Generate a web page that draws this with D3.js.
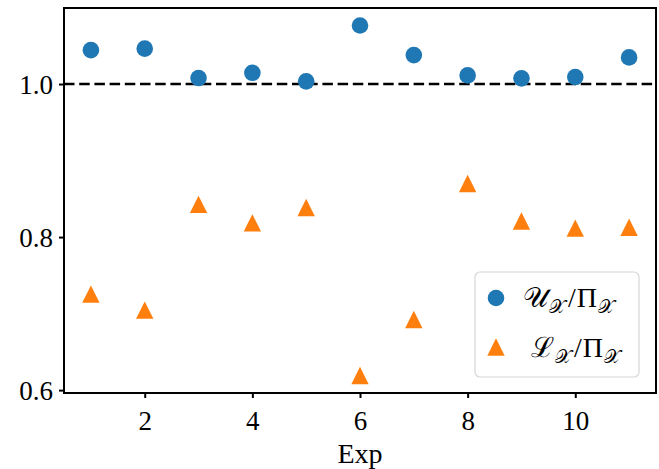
<!DOCTYPE html>
<html>
<head>
<meta charset="utf-8">
<script src="https://cdn.jsdelivr.net/npm/d3@7"></script>
<style>
  html, body { margin: 0; padding: 0; background: #fff; }
  svg { display: block; }
  text { font-family: "Liberation Serif", "DejaVu Serif", serif; fill: #000; }
</style>
</head>
<body>
<svg id="chart" width="659" height="469"></svg>
<script>
// Experiment index
const experiments = [1, 2, 3, 4, 5, 6, 7, 8, 9, 10, 11];
// Upper bound ratio U_X / Pi_X
const upperRatio = [1.0443, 1.0463, 1.0078, 1.0147, 1.0035, 1.0765, 1.0378, 1.0113, 1.0074, 1.0091, 1.0348];
// Lower bound ratio L_X / Pi_X
const lowerRatio = [0.7255, 0.7046, 0.8428, 0.8185, 0.8387, 0.6191, 0.6923, 0.8701, 0.8211, 0.8117, 0.8128];
const xTicks = [2, 4, 6, 8, 10];
const yTicks = [0.6, 0.8, 1.0];
const referenceLevel = 1.0;

const blue = "#1f77b4", orange = "#ff7f0e";
const svg = d3.select("#chart");
const plot = { left: 64, right: 656, top: 8, bottom: 393 };

// 5% padding around the data, as in the usual autoscaling
const all = upperRatio.concat(lowerRatio);
const yMin = d3.min(all), yMax = d3.max(all), pad = (yMax - yMin) * 0.05;
const x = d3.scaleLinear().domain([0.5, 11.5]).range([plot.left, plot.right]);
const y = d3.scaleLinear().domain([yMin - pad, yMax + pad]).range([plot.bottom, plot.top]);

// Axes
const xAxis = d3.axisBottom(x).tickValues(xTicks).tickFormat(d3.format("d")).tickSizeOuter(0).tickSizeInner(5).tickPadding(6);
const yAxis = d3.axisLeft(y).tickValues(yTicks).tickFormat(d3.format(".1f")).tickSizeOuter(0).tickSizeInner(5).tickPadding(6);

const gx = svg.append("g").attr("transform", `translate(0,${plot.bottom})`).call(xAxis);
const gy = svg.append("g").attr("transform", `translate(${plot.left},0)`).call(yAxis);
[gx, gy].forEach(g => {
  g.select(".domain").remove();
  g.selectAll(".tick line").attr("stroke", "#000").attr("stroke-width", 2);
  g.selectAll(".tick text").style("font-size", "27px").attr("fill", "#000");
});
gx.selectAll(".tick text").attr("dy", "0.95em");
gy.selectAll(".tick text").attr("dy", "0.34em");

// Reference line at 1.0
svg.append("line")
  .attr("x1", plot.left).attr("x2", plot.right)
  .attr("y1", y(referenceLevel)).attr("y2", y(referenceLevel))
  .attr("stroke", "#000").attr("stroke-width", 2.6)
  .attr("stroke-dasharray", "10.5,4.7");

// Upper ratio markers
svg.append("g").selectAll("circle").data(experiments).join("circle")
  .attr("cx", (d) => x(d)).attr("cy", (d, i) => y(upperRatio[i]))
  .attr("r", 8.3).attr("fill", blue);

// Lower ratio markers
const tri = (h) => `M0,${-h}L${h},${h}L${-h},${h}Z`;
svg.append("g").selectAll("path").data(experiments).join("path")
  .attr("transform", (d, i) => `translate(${x(d)},${y(lowerRatio[i])})`)
  .attr("d", tri(8.7)).attr("fill", orange);

// Frame
svg.append("rect")
  .attr("x", plot.left).attr("y", plot.top)
  .attr("width", plot.right - plot.left).attr("height", plot.bottom - plot.top)
  .attr("fill", "none").attr("stroke", "#000").attr("stroke-width", 2);

// Axis title
svg.append("text").attr("x", (plot.left + plot.right) / 2).attr("y", 463)
  .attr("text-anchor", "middle").style("font-size", "28px").text("Exp");

// Legend
const lg = svg.append("g");
lg.append("rect").attr("x", 475).attr("y", 272).attr("width", 164).attr("height", 105)
  .attr("rx", 5).attr("fill", "#fff").attr("fill-opacity", 0.8)
  .attr("stroke", "#d6d6d6").attr("stroke-width", 1.2);
lg.append("circle").attr("cx", 496).attr("cy", 298).attr("r", 8.3).attr("fill", blue);
lg.append("path").attr("transform", "translate(496,347)").attr("d", tri(8.7)).attr("fill", orange);

function legendLabel(xPos, yPos, letter) {
  const t = lg.append("text").attr("x", xPos).attr("y", yPos).style("font-size", "28px");
  t.append("tspan").text(letter);
  t.append("tspan").attr("dy", 6).attr("dx", 1).style("font-size", "19px").text("𝒳");
  t.append("tspan").attr("dy", -6).attr("dx", 3).text("/");
  t.append("tspan").attr("dx", 1).text("Π");
  t.append("tspan").attr("dy", 6).attr("dx", 1).style("font-size", "19px").text("𝒳");
}
legendLabel(523, 307, "𝒰");
legendLabel(531, 357, "ℒ");
</script>
</body>
</html>
